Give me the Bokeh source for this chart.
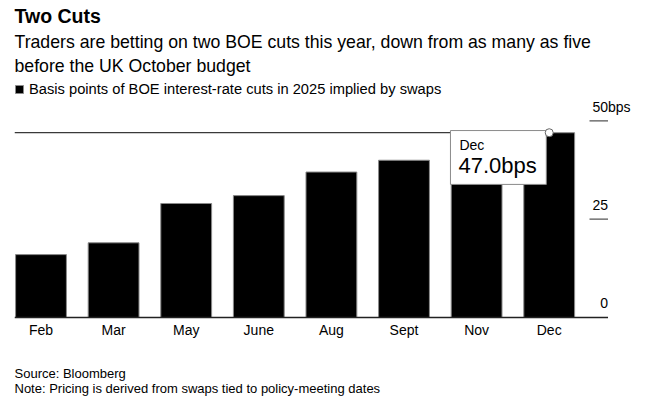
from bokeh.plotting import figure
from bokeh.models import ColumnDataSource, Title, Legend, LegendItem, Range1d
from bokeh.embed import file_html
from bokeh.resources import INLINE
from bokeh.core.properties import value

# ---- data ----
months = ["Feb", "Mar", "May", "June", "Aug", "Sept", "Nov", "Dec"]
cuts_bps = [16.0, 19.0, 29.0, 31.0, 37.0, 40.0, 44.0, 47.0]
y_ticks = [0, 25, 50]
y_tick_labels = ["0", "25", "50"]
y_unit = "bps"

title_text = "Two Cuts"
subtitle_lines = [
    "Traders are betting on two BOE cuts this year, down from as many as five",
    "before the UK October budget",
]
legend_text = "Basis points of BOE interest-rate cuts in 2025 implied by swaps"
source_text = "Source: Bloomberg"
note_text = "Note: Pricing is derived from swaps tied to policy-meeting dates"
hover_index = 7

FONT = "Liberation Sans"

x = list(range(len(months)))
src = ColumnDataSource(dict(x=x, top=cuts_bps, month=months))

x_start, x_end = -0.365, 8.409
axis_x = 7.81  # right end of baseline / right edge of tick labels

p = figure(width=651, height=404, output_backend="svg", toolbar_location=None,
           title=None, x_range=Range1d(x_start, x_end), y_range=Range1d(-22.13, 61.3),
           x_axis_location=None, y_axis_location=None,
           min_border_left=14, min_border_right=0, min_border_top=0, min_border_bottom=0)
p.outline_line_color = None
p.xgrid.visible = False
p.ygrid.visible = False
p.background_fill_color = "white"

bars = p.vbar(x="x", top="top", bottom=0, width=0.7, source=src,
              fill_color="#000000", line_color="#8a8a8a", line_width=1)

# baseline
p.segment(x0=[x_start], y0=[0], x1=[axis_x], y1=[0], line_color="#222222", line_width=1.3)
# tick marks for 25 and 50
p.segment(x0=[7.555] * 2, y0=y_ticks[1:], x1=[axis_x] * 2, y1=y_ticks[1:],
          line_color="#555555", line_width=1.3)
# y tick labels (right side, above their tick marks)
p.text(x=[axis_x] * len(y_ticks), y=y_ticks, text=y_tick_labels, text_align="right",
       text_baseline="middle", y_offset=-14, text_font=value(FONT),
       text_font_size="14px", text_color="#000000")
p.text(x=[axis_x], y=[y_ticks[-1]], text=[y_unit], text_align="left",
       text_baseline="middle", y_offset=-14, text_font=value(FONT),
       text_font_size="14px", text_color="#000000")

# x category labels under the baseline
p.text(x="x", y=0, text="month", source=src, text_align="center",
       text_baseline="middle", y_offset=12.7, text_font=value(FONT),
       text_font_size="14px", text_color="#000000")

# hover crosshair + tooltip
hv = cuts_bps[hover_index]
hx = x[hover_index]
p.segment(x0=[x_start], y0=[hv], x1=[hx], y1=[hv], line_color="#3a3a3a", line_width=1.2)
box_l, box_r = hx - 1.36, hx - 0.04
box_t, box_b = hv + 0.55, hv - 13.15
p.quad(left=[box_l], right=[box_r], top=[box_t], bottom=[box_b],
       fill_color="white", line_color="#8a8a8a", line_width=1)
p.text(x=[box_l], y=[box_t], text=[months[hover_index]], x_offset=9, y_offset=14.5,
       text_baseline="middle", text_font=value(FONT), text_font_size="14px",
       text_color="#000000")
p.text(x=[box_l], y=[box_t], text=[f"{hv:.1f}{y_unit}"], x_offset=8, y_offset=34.5,
       text_baseline="middle", text_font=value(FONT), text_font_size="22px",
       text_color="#000000")
p.scatter(x=[hx], y=[hv], size=8, marker="circle", fill_color="white",
          line_color="#666666", line_width=1)

# footer notes under the month labels
p.text(x=[x_start], y=[0], text=[source_text], text_align="left", text_baseline="middle",
       y_offset=56.5, text_font=value(FONT), text_font_size="13px", text_color="#000000")
p.text(x=[x_start], y=[0], text=[note_text], text_align="left", text_baseline="middle",
       y_offset=71.2, text_font=value(FONT), text_font_size="13px", text_color="#000000")

# legend inside frame, near the top-left (location measured from frame bottom-left)
legend = Legend(items=[LegendItem(label=legend_text, renderers=[bars])],
                orientation="horizontal", location=(0, 307),
                margin=0, padding=3, spacing=0,
                border_line_color=None, background_fill_alpha=0,
                glyph_width=10, glyph_height=10, label_standoff=5,
                label_text_font=FONT, label_text_font_size="14.7px",
                label_text_color="#000000")
p.add_layout(legend)

# titles (added from frame outward)
for line in reversed(subtitle_lines):
    p.add_layout(Title(text=line, align="left", offset=0, text_font=FONT,
                       text_font_size="17.7px", text_font_style="normal",
                       text_color="#000000", standoff=2), "above")
p.add_layout(Title(text=title_text, align="left", offset=0, text_font=FONT,
                   text_font_size="19.5px", text_font_style="bold",
                   text_color="#000000", standoff=4), "above")

open("out.html", "w").write(file_html(p, INLINE))
